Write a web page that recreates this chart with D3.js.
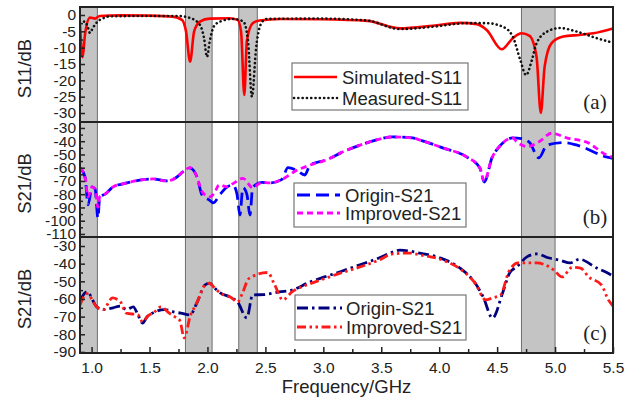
<!DOCTYPE html>
<html>
<head>
<meta charset="utf-8">
<script src="https://cdn.jsdelivr.net/npm/d3@7"></script>
<style>
  html, body { margin: 0; padding: 0; background: #fff; }
  svg { display: block; font-family: "Liberation Sans", Arial, sans-serif; }
</style>
</head>
<body>
<svg id="chart" width="633" height="401"></svg>
<script>
// frequency (GHz), dB pairs
const bands = [[0.9, 1.05], [1.81, 2.04], [2.27, 2.43], [4.71, 5.0]];

const s11Simulated = [
  [0.9, -3], [0.923, -12.9], [0.943, -6], [0.986, -0.8], [1.03, -1.1], [1.07, -0.3],
  [1.245, -0.1], [1.5, -0.2], [1.7, -0.5], [1.78, -1.5], [1.815, -5], [1.85, -14.3],
  [1.885, -5], [1.935, -2], [2.02, -1.1], [2.19, -1.0], [2.26, -1.5], [2.29, -5],
  [2.318, -24.5], [2.34, -8], [2.39, -2.5], [2.45, -1.7], [2.63, -1.2], [2.97, -1.3],
  [3.38, -1.8], [3.66, -4.1], [3.945, -3.3], [4.18, -2.4], [4.325, -2.8], [4.41, -4.6],
  [4.54, -10.5], [4.635, -7.1], [4.71, -5.6], [4.78, -6.4], [4.84, -12.8], [4.877, -30],
  [4.91, -15.8], [4.97, -8.6], [5.07, -6.6], [5.21, -6.1], [5.33, -5.6], [5.5, -4.1]
];
const s11Measured = [
  [0.9, -2.5], [0.943, -2], [0.97, -4], [0.986, -5.5], [1.01, -4], [1.047, -2.2],
  [1.1, -1], [1.16, -0.4], [1.5, -0.3], [1.74, -0.3], [1.85, -0.9], [1.935, -3],
  [1.97, -7], [1.996, -12.8], [2.02, -8], [2.055, -3.5], [2.11, -2], [2.22, -1.2],
  [2.31, -2], [2.35, -8], [2.384, -25], [2.42, -10], [2.47, -2.2], [2.51, -1.2],
  [2.97, -1.1], [3.38, -1.7], [3.66, -4.3], [3.945, -3.6], [4.24, -2.5], [4.41, -2.5],
  [4.55, -3.6], [4.635, -6.6], [4.7, -13.8], [4.75, -18.4], [4.8, -13.8], [4.84, -8.7],
  [4.93, -5.1], [5.04, -4], [5.19, -5.1], [5.36, -7.1], [5.47, -8.2], [5.5, -8.5]
];

const s21OriginB = [
  [0.9, -60], [0.943, -67], [0.97, -88], [1.004, -74.5], [1.03, -76], [1.055, -98],
  [1.07, -82], [1.116, -80], [1.185, -74.5], [1.305, -71.5], [1.444, -69], [1.53, -68.5],
  [1.65, -70], [1.737, -67], [1.79, -63], [1.85, -60.3], [1.91, -67], [1.953, -80.5],
  [2.02, -84.6], [2.048, -86.5], [2.11, -80], [2.17, -74.5], [2.22, -73], [2.255, -80],
  [2.28, -95.7], [2.306, -75], [2.34, -80], [2.367, -95.7], [2.39, -75], [2.47, -71],
  [2.54, -71.5], [2.64, -69], [2.695, -60], [2.77, -62], [2.84, -65.5], [2.885, -58],
  [3.03, -54], [3.17, -48], [3.316, -43], [3.46, -39], [3.6, -36.8], [3.77, -37.5],
  [3.83, -39], [4.03, -45], [4.24, -52], [4.35, -60], [4.39, -70.8], [4.455, -52.6],
  [4.52, -44], [4.636, -37.5], [4.71, -38], [4.78, -41], [4.86, -52.6], [4.93, -43],
  [5.07, -41], [5.19, -43], [5.45, -52], [5.5, -53]
];
const s21ImprovedB = [
  [0.9, -60], [0.943, -67], [0.97, -82], [1.004, -74.5], [1.03, -76], [1.055, -90],
  [1.07, -82], [1.116, -80], [1.185, -74.5], [1.305, -71.5], [1.444, -69], [1.53, -68.5],
  [1.65, -70], [1.737, -67], [1.79, -63], [1.85, -60], [1.91, -67], [1.953, -78],
  [2.02, -82], [2.06, -79], [2.1, -73], [2.17, -74.5], [2.22, -72], [2.306, -68],
  [2.39, -75], [2.47, -71], [2.54, -71.5], [2.64, -69], [2.77, -62], [2.885, -58],
  [3.03, -54], [3.17, -48], [3.316, -43], [3.46, -39], [3.6, -36.8], [3.77, -37.5],
  [3.83, -39], [4.03, -45], [4.24, -52], [4.35, -60], [4.39, -70], [4.455, -52.6],
  [4.52, -44], [4.636, -37.5], [4.67, -40.5], [4.76, -44], [4.86, -40.5], [4.97, -34],
  [5.1, -37.5], [5.28, -41], [5.45, -50.6], [5.5, -52]
];

const s21OriginC = [
  [0.9, -61], [0.96, -56], [1.045, -64.5], [1.1, -66], [1.185, -65], [1.25, -64],
  [1.3, -66], [1.36, -64.5], [1.4, -69], [1.44, -73.6], [1.48, -70], [1.54, -67.5],
  [1.63, -66], [1.72, -67.5], [1.77, -68], [1.85, -69], [1.91, -62], [1.98, -52],
  [2.02, -51], [2.05, -53], [2.11, -56.6], [2.2, -59], [2.26, -61.7], [2.34, -70.7],
  [2.39, -57.7], [2.49, -57.5], [2.62, -56], [2.73, -55], [2.88, -50.5], [3.01, -47.5],
  [3.14, -44.7], [3.31, -40.8], [3.48, -36.8], [3.6, -33.4], [3.66, -32.3], [3.83, -34],
  [4.01, -36.8], [4.18, -42.5], [4.31, -51], [4.38, -58.9], [4.46, -70.8], [4.55, -56],
  [4.61, -45], [4.67, -41.8], [4.76, -36], [4.84, -34.5], [4.95, -36.8], [5.04, -38],
  [5.13, -39.6], [5.21, -37.5], [5.36, -42.5], [5.45, -45.2], [5.5, -47]
];
const s21ImprovedC = [
  [0.9, -63.4], [0.96, -57], [1.045, -64.5], [1.1, -66], [1.18, -59.4], [1.25, -61.7],
  [1.28, -66], [1.3, -68], [1.4, -69], [1.44, -73], [1.48, -70], [1.54, -67.5],
  [1.6, -64.5], [1.67, -68], [1.73, -70.6], [1.76, -72], [1.8, -82], [1.85, -70],
  [1.91, -62], [1.98, -52], [2.02, -51], [2.05, -53], [2.11, -56.6], [2.2, -59],
  [2.26, -61.7], [2.3, -57], [2.35, -49], [2.38, -47.5], [2.52, -45], [2.58, -52],
  [2.65, -60.5], [2.73, -56], [2.88, -51.5], [3.01, -48.5], [3.14, -45.5], [3.31, -42],
  [3.48, -38], [3.6, -34.5], [3.75, -34], [3.83, -35], [4.01, -37.5], [4.18, -43],
  [4.31, -51], [4.4, -60.5], [4.46, -59.4], [4.53, -57.7], [4.6, -44.7], [4.68, -39.6],
  [4.84, -39.6], [4.99, -43.6], [5.06, -47.5], [5.15, -42], [5.22, -42.5], [5.29, -47.5],
  [5.4, -52], [5.46, -60.5], [5.5, -64]
];

const xTicks = [1.0, 1.5, 2.0, 2.5, 3.0, 3.5, 4.0, 4.5, 5.0, 5.5];
const xMinorTicks = [1.25, 1.75, 2.25, 2.75, 3.25, 3.75, 4.25, 4.75, 5.25];
const yTicksA = [0, -5, -10, -15, -20, -25, -30];
const yTicksB = [-30, -40, -50, -60, -70, -80, -90, -100, -110];
const yTicksC = [-30, -40, -50, -60, -70, -80, -90];

const svg = d3.select('#chart');
const left = 80, right = 613;
const x = d3.scaleLinear().domain([0.9, 5.5]).range([left, right]);

const panels = [
  { top: 7, bottom: 122, domain: [-32.75, 2.45], ticks: yTicksA, minorStep: 2.5,
    title: 'S11/dB', tag: '(a)',
    series: [
      { data: s11Simulated, color: '#ff0000', width: 2.6, dash: null, name: 'Simulated-S11' },
      { data: s11Measured, color: '#111', width: 2.6, dash: '0.1 4.2', cap: 'round', name: 'Measured-S11' }
    ],
    legend: { x: 292, y: 63, w: 176, h: 47, rows: [77, 98], lineX: [294, 337], textX: 342 } },
  { top: 122, bottom: 237, domain: [-112.3, -25.5], ticks: yTicksB, minorStep: 5,
    title: 'S21/dB', tag: '(b)',
    series: [
      { data: s21OriginB, color: '#0000ff', width: 2.8, dash: '13 6', name: 'Origin-S21' },
      { data: s21ImprovedB, color: '#ff00ff', width: 2.8, dash: '6 4', name: 'Improved-S21' }
    ],
    legend: { x: 294, y: 183, w: 172, h: 44, rows: [195, 213], lineX: [297, 340], textX: 345 } },
  { top: 237, bottom: 353, domain: [-90.6, -24.9], ticks: yTicksC, minorStep: 5,
    title: 'S21/dB', tag: '(c)',
    series: [
      { data: s21OriginC, color: '#00007f', width: 2.8, dash: '11 4 2.5 4', name: 'Origin-S21' },
      { data: s21ImprovedC, color: '#ff1a1a', width: 2.8, dash: '9 3.5 2.5 3.5 2.5 3.5', name: 'Improved-S21' }
    ],
    legend: { x: 295, y: 295, w: 171, h: 45, rows: [308, 327], lineX: [297, 342], textX: 346 } }
];

// shaded frequency bands spanning all three panels
svg.append('g')
  .selectAll('rect')
  .data(bands)
  .join('rect')
  .attr('x', (d) => x(d[0]))
  .attr('y', panels[0].top)
  .attr('width', (d) => x(d[1]) - x(d[0]))
  .attr('height', panels[2].bottom - panels[0].top)
  .attr('fill', '#c4c4c4')
  .attr('stroke', '#6e6e6e')
  .attr('stroke-width', 1);

panels.forEach((p, i) => {
  const y = d3.scaleLinear().domain(p.domain).range([p.bottom, p.top]);
  const g = svg.append('g');

  const clipId = `clip-${i}`;
  svg.append('clipPath').attr('id', clipId)
    .append('rect')
    .attr('x', left).attr('y', p.top)
    .attr('width', right - left).attr('height', p.bottom - p.top);

  const line = d3.line()
    .x((d) => x(d[0]))
    .y((d) => y(d[1]))
    .curve(d3.curveMonotoneX);

  g.append('g')
    .attr('clip-path', `url(#${clipId})`)
    .selectAll('path')
    .data(p.series)
    .join('path')
    .attr('d', (s) => line(s.data))
    .attr('fill', 'none')
    .attr('stroke', (s) => s.color)
    .attr('stroke-width', (s) => s.width)
    .attr('stroke-dasharray', (s) => s.dash)
    .attr('stroke-linecap', (s) => s.cap || 'butt')
    .attr('stroke-linejoin', 'round');

  // y axis, ticks pointing inward
  const minor = d3.range(p.ticks[p.ticks.length - 1], p.ticks[0] + 0.01, p.minorStep)
    .filter((v) => !p.ticks.includes(v));
  const yMinor = g.append('g')
    .attr('transform', `translate(${left},0)`)
    .call(d3.axisLeft(y).tickValues(minor).tickSize(-3).tickFormat(''));
  yMinor.select('.domain').remove();

  const yAxis = g.append('g')
    .attr('transform', `translate(${left},0)`)
    .call(d3.axisLeft(y).tickValues(p.ticks).tickSize(-5).tickPadding(4).tickFormat(d3.format('d')));
  yAxis.select('.domain').remove();
  yAxis.selectAll('line').attr('stroke', '#222').attr('stroke-width', 1.5);
  yMinor.selectAll('line').attr('stroke', '#222').attr('stroke-width', 1.5);
  yAxis.selectAll('text')
    .attr('font-size', 15.5)
    .attr('fill', '#222')
    .attr('font-family', '"Liberation Sans", Arial, sans-serif')
    .text((d) => String(d).replace('-', '-'));

  // axis title
  const cy = (p.top + p.bottom) / 2 + 4;
  g.append('text')
    .attr('transform', `translate(31,${cy}) rotate(-90)`)
    .attr('text-anchor', 'middle')
    .attr('font-size', 18.5)
    .attr('fill', '#222')
    .text(p.title);

  // panel tag
  g.append('text')
    .attr('x', 595)
    .attr('y', p.bottom - 13)
    .attr('text-anchor', 'middle')
    .attr('font-family', '"Liberation Serif", "Times New Roman", serif')
    .attr('font-size', 21)
    .attr('fill', '#222')
    .text(p.tag);

  // legend
  const L = p.legend;
  const lg = g.append('g');
  lg.append('rect')
    .attr('x', L.x).attr('y', L.y)
    .attr('width', L.w).attr('height', L.h)
    .attr('fill', '#fff')
    .attr('stroke', '#777')
    .attr('stroke-width', 1.2);
  p.series.forEach((s, k) => {
    lg.append('line')
      .attr('x1', L.lineX[0]).attr('x2', L.lineX[1])
      .attr('y1', L.rows[k]).attr('y2', L.rows[k])
      .attr('stroke', s.color)
      .attr('stroke-width', s.width)
      .attr('stroke-dasharray', s.dash)
      .attr('stroke-linecap', s.cap || 'butt');
    lg.append('text')
      .attr('x', L.textX)
      .attr('y', L.rows[k])
      .attr('dy', '0.36em')
      .attr('font-size', 18.5)
      .attr('fill', '#222')
      .text(s.name);
  });

  // panel frame
  g.append('rect')
    .attr('x', left).attr('y', p.top)
    .attr('width', right - left).attr('height', p.bottom - p.top)
    .attr('fill', 'none')
    .attr('stroke', '#222')
    .attr('stroke-width', 2);
});

// bottom frequency axis
const bottom = panels[2].bottom;
const xMinor = svg.append('g')
  .attr('transform', `translate(0,${bottom})`)
  .call(d3.axisBottom(x).tickValues(xMinorTicks).tickSize(-4).tickFormat(''));
xMinor.select('.domain').remove();
xMinor.selectAll('line').attr('stroke', '#222').attr('stroke-width', 1.5);

const xAxis = svg.append('g')
  .attr('transform', `translate(0,${bottom})`)
  .call(d3.axisBottom(x).tickValues(xTicks).tickSize(-6).tickPadding(9).tickFormat(d3.format('.1f')));
xAxis.select('.domain').remove();
xAxis.selectAll('line').attr('stroke', '#222').attr('stroke-width', 1.5);
xAxis.selectAll('text')
  .attr('font-size', 15.5)
  .attr('fill', '#222')
  .attr('font-family', '"Liberation Sans", Arial, sans-serif');

svg.append('text')
  .attr('x', (left + right) / 2)
  .attr('y', 393)
  .attr('text-anchor', 'middle')
  .attr('font-size', 18.5)
  .attr('fill', '#222')
  .text('Frequency/GHz');
</script>
</body>
</html>
